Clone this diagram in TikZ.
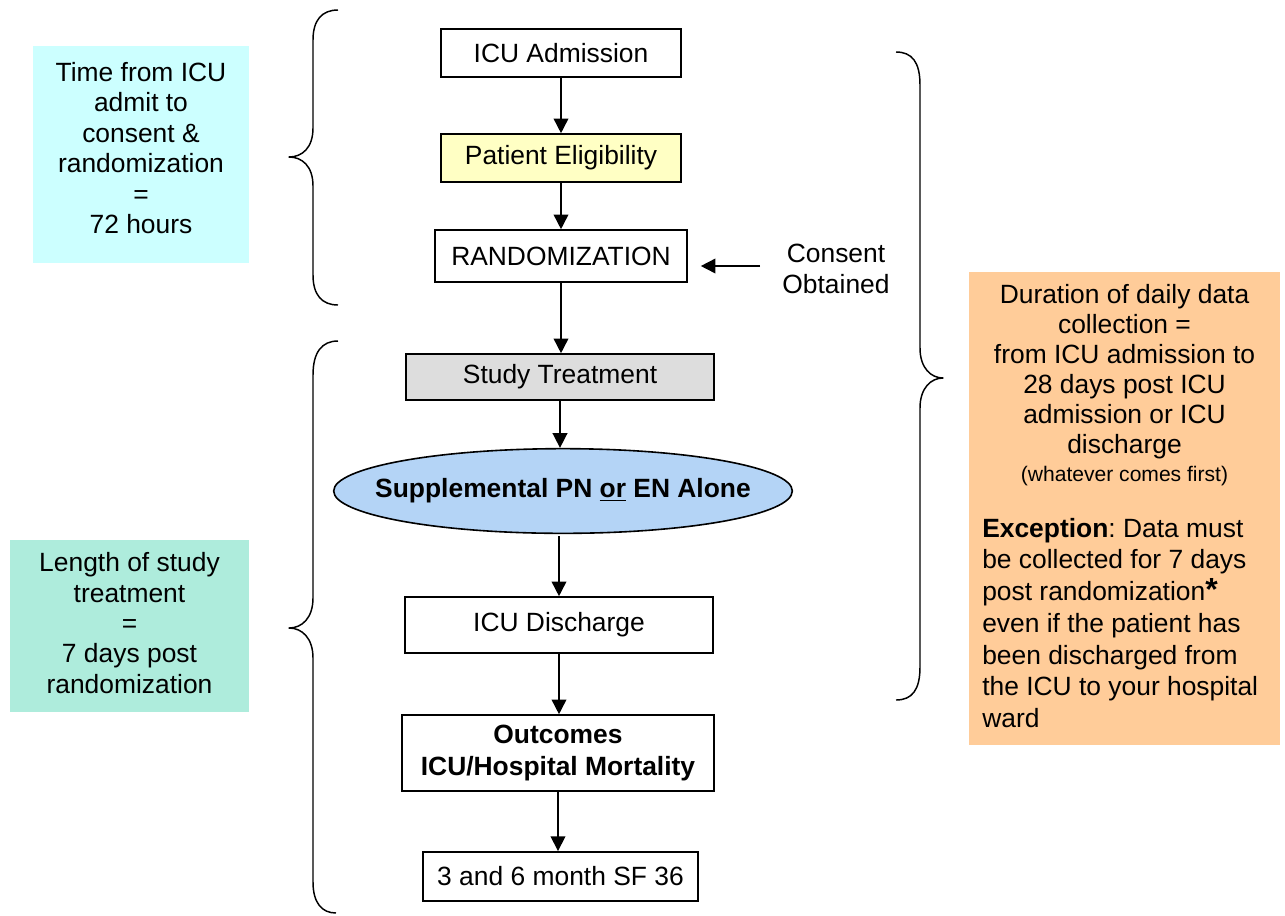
\documentclass[tikz,border=0pt]{standalone}
\usepackage{fontspec}
\setmainfont{Liberation Sans}
\usetikzlibrary{arrows.meta,shapes.geometric}

\definecolor{cyanbox}{RGB}{204,255,255}
\definecolor{greenbox}{RGB}{174,236,220}
\definecolor{orangebox}{RGB}{255,204,153}
\definecolor{yellowbox}{RGB}{255,255,196}
\definecolor{graybox}{RGB}{221,221,221}
\definecolor{bluefill}{RGB}{180,212,246}

\newcommand{\mainsize}{\fontsize{19.8pt}{22.8pt}\selectfont}
\newcommand{\smallsize}{\fontsize{15.8pt}{18pt}\selectfont}
\frenchspacing

\begin{document}
\begin{tikzpicture}[x=0.75pt, y=-0.75pt,
  every node/.style={font=\mainsize, inner sep=0pt},
  flow/.style={draw=black, line width=1.2pt, align=center},
  note/.style={draw=none},
  arr/.style={line width=1.2pt, -{Triangle[length=11pt,width=11pt]}},
  brace/.style={line width=1.1pt, line join=round}]

\useasboundingbox (0,0) rectangle (1285,915);

% ---- flow chart ----
\node[flow, minimum width=180pt, minimum height=36pt] (adm) at (561,53) {ICU Admission};
\node[flow, fill=yellowbox, minimum width=180pt, minimum height=36pt] (elig) at (561,158) {Patient Eligibility};
\node[flow, minimum width=189pt, minimum height=39pt] (rand) at (561,256) {RANDOMIZATION};
\node[flow, fill=graybox, minimum width=231pt, minimum height=34.5pt] (treat) at (560,377) {Study Treatment};
\node[flow, ellipse, fill=bluefill, minimum width=344pt, minimum height=63.5pt] (arm) at (563,491) {};
\node[note] (armtxt) at (563,491) {\bfseries Supplemental PN \underline{or} EN Alone};
\node[flow, minimum width=231pt, minimum height=42pt] (disch) at (559,625) {ICU Discharge};
\node[flow, minimum width=234pt, minimum height=57pt, font=\fontsize{19.8pt}{24pt}\selectfont\bfseries] (outc) at (558,753)
  {Outcomes\\ICU/Hospital Mortality};
\node[flow, minimum width=206pt, minimum height=37pt] (sf) at (560.5,876.5) {3 and 6 month SF 36};

\draw[arr] (adm.south) -- (adm.south |- elig.north);
\draw[arr] (elig.south) -- (elig.south |- rand.north);
\draw[arr] (rand.south) -- (rand.south |- treat.north);
\draw[arr] (treat.south) -- (treat.south |- arm.north);
\draw[arr] ([yshift=-1.5pt]arm.south -| disch.north) -- (disch.north);
\draw[arr] (disch.south) -- (disch.south |- outc.north);
\draw[arr] (outc.south) -- (outc.south |- sf.north);

% ---- consent ----
\node[note, align=center, font=\fontsize{19.8pt}{23.3pt}\selectfont] (consent) at (836,269) {Consent\\Obtained};
\draw[arr, shorten <=16.5pt, shorten >=9.75pt] (consent.west |- 0,266) -- (rand.east |- 0,266);

% ---- braces ----
\draw[brace] (338,10) .. controls (322,10) and (313,20) .. (313,40) -- (313,128)
  .. controls (313,148) and (302,157) .. (289,157)
  .. controls (302,157) and (313,166) .. (313,186) -- (313,275)
  .. controls (313,295) and (322,305) .. (338,305);
\draw[brace] (338,341) .. controls (322,341) and (313,352) .. (313,375) -- (313,598)
  .. controls (313,618) and (302,628) .. (289,628)
  .. controls (302,628) and (313,638) .. (313,658) -- (313,882)
  .. controls (313,903) and (322,913) .. (336,913);
\draw[brace] (896,52) .. controls (912,52) and (920,62) .. (920,85) -- (920,348)
  .. controls (920,368) and (931,378) .. (943,378)
  .. controls (931,378) and (920,388) .. (920,408) -- (920,667)
  .. controls (920,690) and (912,700) .. (896,700);

% ---- side notes ----
\node[fill=cyanbox, minimum width=162pt, minimum height=162.75pt] (cyanbg) at (141,154.5) {};
\node[note, align=center] (cyantxt) at (141,148)
  {Time from ICU\\admit to\\consent \&\\randomization\\=\\72 hours};

\node[fill=greenbox, minimum width=179.25pt, minimum height=129pt] (greenbg) at (129.5,626) {};
\node[note, align=center] (greentxt) at (129.5,623)
  {Length of study\\treatment\\=\\7 days post\\randomization};

\node[fill=orangebox, minimum width=233.25pt, minimum height=354.75pt] (orangebg) at (1124.5,508.5) {};
\node[note, align=center, font=\fontsize{19.8pt}{22.5pt}\selectfont] (durtxt) at (1124.5,372)
  {Duration of daily data\\collection =\\from ICU admission to\\28 days post ICU\\admission or ICU\\discharge};
\node[note, font=\smallsize] (firsttxt) at (1124.5,476) {(whatever comes first)};
\node[note, anchor=west, align=left, font=\fontsize{19.8pt}{23.8pt}\selectfont] (exctxt) at (982,623)
  {\textbf{Exception}: Data must\\be collected for 7 days\\post randomization{\fontsize{24pt}{24pt}\selectfont\bfseries*}\\even if the patient has\\been discharged from\\the ICU to your hospital\\ward};

\end{tikzpicture}
\end{document}
